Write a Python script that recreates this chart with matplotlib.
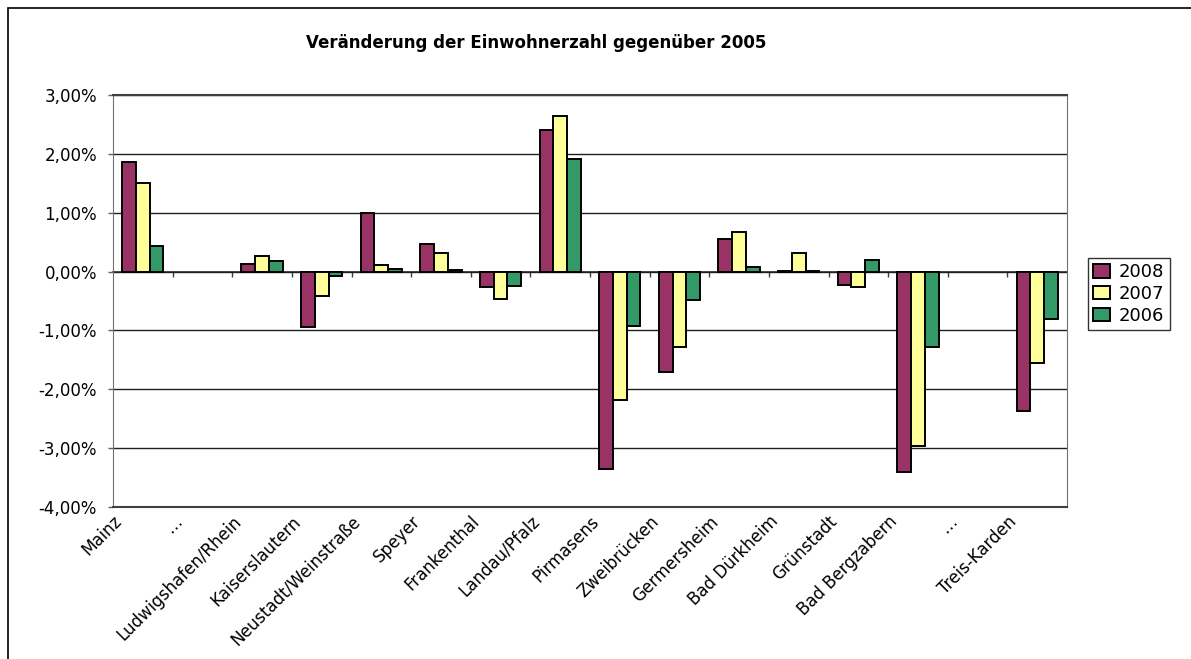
import numpy as np
import matplotlib
matplotlib.use("Agg")
import matplotlib.pyplot as plt
from matplotlib.patches import Rectangle
from matplotlib.ticker import FuncFormatter
from matplotlib.transforms import ScaledTranslation

# Data (percent change vs. 2005)
cities = ["Mainz", "\u2026", "Ludwigshafen/Rhein", "Kaiserslautern",
          "Neustadt/Weinstraße", "Speyer", "Frankenthal", "Landau/Pfalz",
          "Pirmasens", "Zweibrücken", "Germersheim", "Bad Dürkheim",
          "Grünstadt", "Bad Bergzabern", "\u2026", "Treis-Karden"]
years = ["2008", "2007", "2006"]
v2008 = [1.87, np.nan, 0.13, -0.95, 0.99, 0.47, -0.26, 2.41,
         -3.35, -1.71, 0.56, 0.01, -0.22, -3.41, np.nan, -2.37]
v2007 = [1.51, np.nan, 0.27, -0.41, 0.11, 0.31, -0.47, 2.64,
         -2.18, -1.29, 0.68, 0.31, -0.26, -2.96, np.nan, -1.56]
v2006 = [0.43, np.nan, 0.18, -0.07, 0.05, 0.02, -0.25, 1.91,
         -0.92, -0.48, 0.085, 0.01, 0.20, -1.29, np.nan, -0.80]
colors = ["#993366", "#FFFF99", "#339966"]

plt.rcParams['font.family'] = ['DejaVu Sans']

fig = plt.figure(figsize=(11.91, 6.59), dpi=100)
W, H = 1191, 659
ax = fig.add_axes([113 / W, 1 - 507 / H, (1067 - 113) / W, (507 - 95) / H])

# outer chart border (cut off on right and bottom)
fig.patches.append(Rectangle((8 / W, -0.1), 1.2, 1.1 - 8 / H, transform=fig.transFigure,
                             fill=False, edgecolor="black", linewidth=1.2))

x = np.arange(len(cities))
w = 0.23
for i, (vals, yr) in enumerate(zip([v2008, v2007, v2006], years)):
    ax.bar(x + (i - 1) * w, vals, width=w, color=colors[i], edgecolor="black",
           linewidth=1.4, label=yr, zorder=3)

ax.set_xlim(-0.5, len(cities) - 0.5)
ax.set_ylim(-4, 3)
ax.set_yticks(np.arange(-4, 3.5, 1))
ax.yaxis.set_major_formatter(FuncFormatter(lambda v, p: f"{v:.2f}%".replace(".", ",")))
ax.grid(axis="y", color="#202020", linewidth=1.0, zorder=0)
ax.set_axisbelow(True)
ax.tick_params(axis="y", length=3.6, width=1, color="#606060", pad=8, labelsize=12)

for s in ["left", "right"]:
    ax.spines[s].set_color("#707070")
for s in ["top", "bottom"]:
    ax.spines[s].set_color("#404040")
    ax.spines[s].set_linewidth(1.5)

# category labels at the bottom
ax.set_xticks(x)
ax.set_xticklabels(cities, fontsize=12)
ax.tick_params(axis="x", length=0, pad=11)
off = ScaledTranslation(-20 / 100, 0, fig.dpi_scale_trans)
for lab in ax.get_xticklabels():
    lab.set_rotation(45)
    lab.set_ha("right")
    lab.set_va("baseline")
    lab.set_rotation_mode("anchor")
    lab.set_transform(lab.get_transform() + off)

# category axis line at zero with ticks between groups
sec = ax.secondary_xaxis(0, transform=ax.transData)
sec.set_xticks(np.arange(0.5, len(cities) - 1, 1))
sec.tick_params(axis="x", length=3.6, width=1, color="#404040", labelbottom=False)
sec.spines["bottom"].set_color("#303030")
sec.spines["bottom"].set_linewidth(1.2)

fig.text(536 / W, 1 - 43 / H, "Veränderung der Einwohnerzahl gegenüber 2005",
         ha="center", va="center", fontsize=12, fontweight="bold")

leg = fig.legend(loc="center left", bbox_to_anchor=(1088 / W, 1 - 294 / H),
                 prop={"size": 13}, frameon=True, fancybox=False, edgecolor="black",
                 handlelength=0.9, handleheight=0.75, handletextpad=0.5,
                 borderpad=0.3, labelspacing=0.2, borderaxespad=0)
leg.get_frame().set_linewidth(1.0)

fig.savefig("out.png", dpi=100)
